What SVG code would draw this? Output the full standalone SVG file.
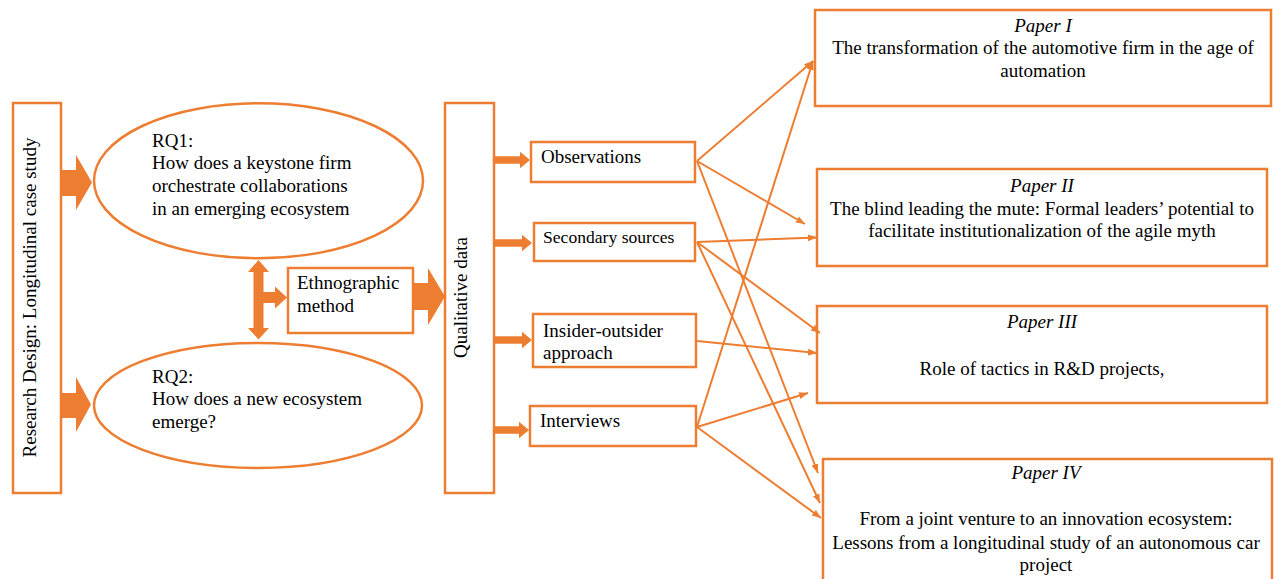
<svg xmlns="http://www.w3.org/2000/svg" width="1274" height="579" viewBox="0 0 1274 579">
  <style>
    .box { fill: #ffffff; stroke: #ED7D31; stroke-width: 2.5; }
    .fat { fill: #ED7D31; stroke: none; }
    .link { stroke: #ED7D31; stroke-width: 2; fill: none; marker-end: url(#tip); }
    text { font-family: "Liberation Serif", "Times New Roman", serif; font-size: 19px; fill: #000000; }
    .mid { text-anchor: middle; }
    .it { font-style: italic; }
  </style>
  <defs>
    <marker id="tip" markerUnits="userSpaceOnUse" markerWidth="10" markerHeight="8" refX="9" refY="3.5" orient="auto">
      <path d="M0,0 L9,3.5 L0,7 Z" fill="#ED7D31"/>
    </marker>
  </defs>

  <rect width="1274" height="579" fill="#ffffff"/>

  <!-- block arrows -->
  <g id="block-arrows">
    <polygon class="fat" points="62,170 76,170 76,155 92,182.5 76,210 76,196 62,196"/>
    <polygon class="fat" points="62,393 76,393 76,377 91,404.5 76,432 76,418 62,418"/>
    <polygon class="fat" points="258.5,260 269,272 263.5,272 263.5,292 275,292 275,286.5 287,297.5 275,308.5 275,303 263.5,303 263.5,328 269,328 258.5,339.5 248,328 253.5,328 253.5,272 248,272"/>
    <polygon class="fat" points="414,283 428,283 428,268 445,296.5 428,325 428,310 414,310"/>
    <polygon class="fat" points="495,156.3 520,156.3 520,151.7 530,160 520,168.3 520,163.7 495,163.7"/>
    <polygon class="fat" points="495,239.3 522,239.3 522,234.7 532,243 522,251.3 522,246.7 495,246.7"/>
    <polygon class="fat" points="495,336.3 522,336.3 522,331.7 532,340 522,348.3 522,343.7 495,343.7"/>
    <polygon class="fat" points="495,426.3 519,426.3 519,421.7 529,430 519,438.3 519,433.7 495,433.7"/>
  </g>

  <g id="research-design">
    <rect class="box" x="13" y="103" width="48" height="390"/>
    <text class="mid" transform="translate(35.5,297.5) rotate(-90)">Research Design: Longitudinal case study</text>
  </g>

  <g id="rq1">
    <ellipse class="box" cx="258.5" cy="180.8" rx="164.5" ry="77.5"/>
    <text x="152" y="146.5">RQ1:</text>
    <text x="152" y="169.3">How does a keystone firm</text>
    <text x="152" y="192">orchestrate collaborations</text>
    <text x="152" y="214.5">in an emerging ecosystem</text>
  </g>

  <g id="rq2">
    <ellipse class="box" cx="258" cy="405.4" rx="164" ry="62.5"/>
    <text x="152" y="382.7">RQ2:</text>
    <text x="152" y="405.2">How does a new ecosystem</text>
    <text x="152" y="427.5">emerge?</text>
  </g>

  <g id="ethnographic">
    <rect class="box" x="288" y="268" width="125" height="65"/>
    <text x="297" y="289.3">Ethnographic</text>
    <text x="297" y="311.7">method</text>
  </g>

  <g id="qualitative">
    <rect class="box" x="445" y="103" width="49" height="390"/>
    <text class="mid" transform="translate(467,297.5) rotate(-90)">Qualitative data</text>
  </g>

  <g id="observations">
    <rect class="box" x="531" y="142" width="164" height="40"/>
    <text x="541" y="162.7">Observations</text>
  </g>

  <g id="secondary">
    <rect class="box" x="534" y="223" width="161" height="38"/>
    <text x="543" y="242.7" style="font-size:17.6px">Secondary sources</text>
  </g>

  <g id="insider">
    <rect class="box" x="533" y="314" width="163" height="53"/>
    <text x="543" y="336.7">Insider-outsider</text>
    <text x="543" y="359.3">approach</text>
  </g>

  <g id="interviews">
    <rect class="box" x="530" y="406" width="166" height="40"/>
    <text x="540" y="427.3">Interviews</text>
  </g>

  <g id="paper1">
    <rect class="box" x="815" y="10" width="456" height="96"/>
    <text class="mid it" x="1043" y="31.7">Paper I</text>
    <text class="mid" x="1043" y="54.3">The transformation of the automotive firm in the age of</text>
    <text class="mid" x="1043" y="76.7">automation</text>
  </g>

  <g id="paper2">
    <rect class="box" x="817" y="169" width="450" height="97"/>
    <text class="mid it" x="1042" y="191.7">Paper II</text>
    <text class="mid" x="1042" y="215">The blind leading the mute: Formal leaders’ potential to</text>
    <text class="mid" x="1042" y="236.7">facilitate institutionalization of the agile myth</text>
  </g>

  <g id="paper3">
    <rect class="box" x="817" y="306" width="450" height="97"/>
    <text class="mid it" x="1042" y="328.3">Paper III</text>
    <text class="mid" x="1042" y="375">Role of tactics in R&amp;D projects,</text>
  </g>

  <g id="paper4">
    <rect class="box" x="823" y="459" width="449" height="150"/>
    <text class="mid it" x="1046" y="479.3">Paper IV</text>
    <text class="mid" x="1046" y="525">From a joint venture to an innovation ecosystem:</text>
    <text class="mid" x="1046" y="549.3">Lessons from a longitudinal study of an autonomous car</text>
    <text class="mid" x="1046" y="571">project</text>
  </g>

  <!-- data sources to papers -->
  <g id="connectors">
    <line class="link" x1="697" y1="161" x2="813" y2="61"/>
    <line class="link" x1="697" y1="161" x2="805" y2="224"/>
    <line class="link" x1="697" y1="161" x2="818" y2="473"/>
    <line class="link" x1="697" y1="242" x2="817" y2="237.5"/>
    <line class="link" x1="697" y1="242" x2="820" y2="333"/>
    <line class="link" x1="697" y1="242" x2="820" y2="503"/>
    <line class="link" x1="697" y1="341" x2="817" y2="353"/>
    <line class="link" x1="697" y1="427" x2="813" y2="61"/>
    <line class="link" x1="697" y1="427" x2="808" y2="393"/>
    <line class="link" x1="697" y1="427" x2="821" y2="518"/>
  </g>
</svg>
